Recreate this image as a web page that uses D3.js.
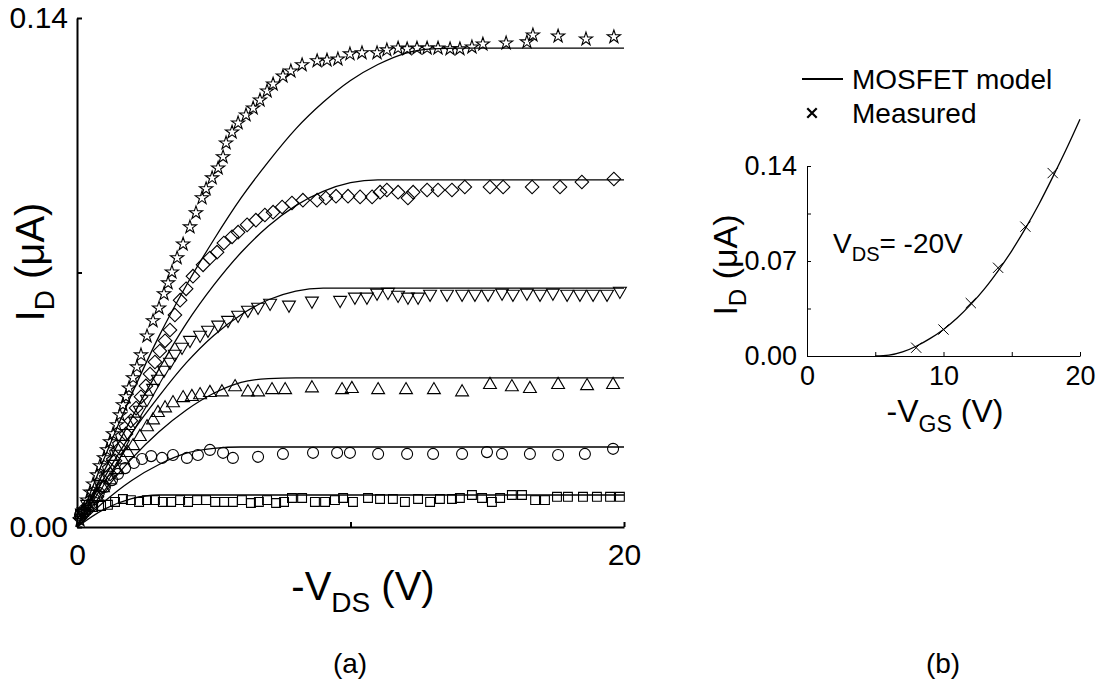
<!DOCTYPE html>
<html>
<head>
<meta charset="utf-8">
<script src="https://cdn.jsdelivr.net/npm/d3@7"></script>
<style>
  html, body { margin: 0; padding: 0; background: #fff; }
  svg { display: block; }
  text { font-family: "Liberation Sans", Arial, Helvetica, sans-serif; fill: #000; }
</style>
</head>
<body>
<svg id="chart" width="1101" height="695"></svg>
<script>
// ---------- Panel (a): output characteristics, -I_D vs -V_DS ----------
// Model curves sampled at -V_DS = 0..20 V
const modelVds = [0,1,2,3,4,5,6,7,8,9,10,11,12,13,14,15,16,17,18,19,20];
const modelVgs18 = [0,0.0190,0.0365,0.0525,0.0665,0.0790,0.0905,0.1005,0.1095,0.1168,0.1228,0.1272,0.1303,0.1315,0.1317,0.1317,0.1317,0.1317,0.1317,0.1317,0.1317];
const modelVgs16 = [0,0.0155,0.0300,0.0435,0.0560,0.0665,0.0755,0.0828,0.0884,0.0923,0.0947,0.0955,0.0955,0.0955,0.0955,0.0955,0.0955,0.0955,0.0955,0.0955,0.0955];
const modelVgs14 = [0,0.0136,0.0258,0.0360,0.0452,0.0527,0.0584,0.0625,0.0649,0.0657,0.0657,0.0657,0.0657,0.0657,0.0657,0.0657,0.0657,0.0657,0.0657,0.0657,0.0657];
const modelVgs12 = [0,0.0100,0.0188,0.0262,0.0322,0.0368,0.0398,0.0408,0.0410,0.0410,0.0410,0.0410,0.0410,0.0410,0.0410,0.0410,0.0410,0.0410,0.0410,0.0410,0.0410];
const modelVgs10 = [0,0.0070,0.0128,0.0172,0.0203,0.0216,0.0220,0.0220,0.0220,0.0220,0.0220,0.0220,0.0220,0.0220,0.0220,0.0220,0.0220,0.0220,0.0220,0.0220,0.0220];
const modelVgs8  = [0,0.0049,0.0078,0.0088,0.0088,0.0088,0.0088,0.0088,0.0088,0.0088,0.0088,0.0088,0.0088,0.0088,0.0088,0.0088,0.0088,0.0088,0.0088,0.0088,0.0088];

// Measured points [-V_DS (V), -I_D (uA)]
const measVgs18 = [[0.11,0.0019],[0.26,0.0047],[0.37,0.0074],[0.48,0.0096],[0.59,0.0118],[0.73,0.0143],[0.84,0.0168],[0.99,0.0190],[1.10,0.0212],[1.21,0.0234],[1.32,0.0256],[1.46,0.0281],[1.57,0.0308],[1.68,0.0336],[1.79,0.0358],[1.90,0.0382],[2.05,0.0410],[2.19,0.0440],[2.34,0.0473],[2.56,0.0525],[2.78,0.0567],[3.00,0.0602],[3.18,0.0641],[3.33,0.0671],[3.47,0.0701],[3.66,0.0740],[3.88,0.0778],[4.13,0.0825],[4.35,0.0864],[4.57,0.0905],[4.72,0.0930],[4.94,0.0960],[5.16,0.0987],[5.34,0.1018],[5.45,0.1056],[5.67,0.1086],[5.89,0.1111],[6.18,0.1133],[6.44,0.1152],[6.69,0.1174],[6.95,0.1199],[7.17,0.1218],[7.53,0.1240],[7.82,0.1254],[8.23,0.1271],[8.78,0.1282],[9.14,0.1284],[9.54,0.1287],[9.98,0.1301],[10.42,0.1304],[10.97,0.1304],[11.33,0.1312],[11.74,0.1317],[12.07,0.1315],[12.43,0.1317],[12.80,0.1317],[13.20,0.1317],[13.64,0.1315],[14.00,0.1315],[14.44,0.1320],[14.84,0.1328],[15.69,0.1331],[16.45,0.1334],[16.67,0.1353],[17.59,0.1350],[18.61,0.1342],[19.63,0.1348]];
const measVgs16 = [[0.11,0.0025],[0.26,0.0041],[0.48,0.0058],[0.73,0.0083],[0.95,0.0110],[1.21,0.0146],[1.39,0.0182],[1.57,0.0217],[1.79,0.0256],[1.97,0.0292],[2.16,0.0327],[2.34,0.0358],[2.52,0.0388],[2.67,0.0421],[2.85,0.0454],[3.03,0.0484],[3.22,0.0512],[3.40,0.0542],[3.58,0.0583],[3.77,0.0624],[3.99,0.0655],[4.24,0.0690],[4.61,0.0721],[4.86,0.0740],[5.12,0.0756],[5.37,0.0781],[5.67,0.0798],[5.89,0.0811],[6.22,0.0831],[6.54,0.0844],[6.87,0.0858],[7.17,0.0866],[7.50,0.0880],[7.86,0.0891],[8.26,0.0899],[8.78,0.0899],[9.10,0.0905],[9.47,0.0910],[9.91,0.0910],[10.35,0.0908],[10.79,0.0908],[11.08,0.0921],[11.33,0.0927],[11.74,0.0921],[12.10,0.0905],[12.29,0.0921],[12.80,0.0927],[13.20,0.0927],[13.71,0.0927],[14.18,0.0935],[15.10,0.0935],[15.58,0.0935],[16.64,0.0935],[17.66,0.0935],[18.46,0.0949],[19.63,0.0957]];
const measVgs14 = [[0.18,0.0039],[0.37,0.0063],[0.59,0.0091],[0.84,0.0118],[1.10,0.0143],[1.32,0.0173],[1.50,0.0201],[1.68,0.0228],[1.86,0.0258],[2.12,0.0292],[2.30,0.0322],[2.56,0.0352],[2.78,0.0382],[2.96,0.0407],[3.18,0.0432],[3.40,0.0454],[3.58,0.0476],[3.84,0.0495],[4.13,0.0514],[4.50,0.0528],[4.79,0.0542],[5.16,0.0556],[5.52,0.0569],[5.89,0.0583],[6.25,0.0597],[6.62,0.0605],[7.06,0.0616],[7.75,0.0611],[8.59,0.0622],[9.62,0.0624],[10.16,0.0633],[10.60,0.0633],[10.97,0.0644],[11.37,0.0646],[11.74,0.0638],[12.10,0.0633],[12.47,0.0633],[12.91,0.0641],[13.53,0.0641],[14.08,0.0641],[14.55,0.0641],[15.03,0.0641],[15.54,0.0644],[15.94,0.0641],[16.45,0.0644],[16.93,0.0641],[17.40,0.0644],[17.92,0.0641],[18.39,0.0641],[18.87,0.0641],[19.38,0.0641],[19.85,0.0649]];
const measVgs12 = [[0.18,0.0039],[0.40,0.0055],[0.73,0.0083],[0.95,0.0107],[1.21,0.0129],[1.46,0.0157],[1.68,0.0184],[1.86,0.0204],[2.05,0.0223],[2.30,0.0248],[2.56,0.0275],[2.78,0.0294],[2.96,0.0314],[3.22,0.0327],[3.51,0.0341],[3.88,0.0355],[4.20,0.0358],[4.50,0.0363],[4.86,0.0369],[5.30,0.0371],[5.78,0.0385],[6.25,0.0371],[6.62,0.0371],[7.13,0.0377],[7.61,0.0377],[8.59,0.0382],[9.69,0.0377],[10.05,0.0380],[11.01,0.0377],[12.03,0.0377],[13.05,0.0377],[14.08,0.0371],[15.10,0.0391],[15.90,0.0385],[16.56,0.0380],[17.59,0.0391],[18.65,0.0388],[19.60,0.0391]];
const measVgs10 = [[0.11,0.0033],[0.26,0.0047],[0.44,0.0061],[0.62,0.0077],[0.80,0.0094],[1.02,0.0110],[1.28,0.0129],[1.50,0.0146],[1.76,0.0162],[2.08,0.0176],[2.38,0.0187],[2.71,0.0195],[3.11,0.0190],[3.51,0.0198],[4.02,0.0190],[4.42,0.0198],[4.86,0.0212],[5.34,0.0204],[5.70,0.0190],[6.62,0.0193],[7.53,0.0201],[8.63,0.0204],[9.51,0.0204],[9.98,0.0204],[11.01,0.0201],[12.07,0.0201],[13.02,0.0201],[14.08,0.0201],[14.99,0.0206],[15.54,0.0201],[16.56,0.0201],[17.59,0.0198],[18.57,0.0201],[19.60,0.0215]];
const measVgs8 = [[0.11,0.0036],[0.33,0.0047],[0.59,0.0055],[0.88,0.0058],[1.13,0.0061],[1.39,0.0069],[1.68,0.0077],[1.97,0.0074],[2.27,0.0069],[2.56,0.0074],[2.85,0.0074],[3.14,0.0069],[3.44,0.0069],[3.77,0.0074],[4.06,0.0069],[4.39,0.0074],[4.72,0.0074],[5.05,0.0069],[5.38,0.0069],[5.70,0.0069],[6.03,0.0074],[6.36,0.0066],[6.65,0.0069],[6.95,0.0074],[7.28,0.0066],[7.57,0.0069],[7.86,0.0080],[8.23,0.0080],[8.70,0.0069],[9.07,0.0069],[9.43,0.0074],[9.73,0.0080],[10.09,0.0069],[10.64,0.0080],[11.08,0.0077],[11.55,0.0077],[11.99,0.0069],[12.47,0.0077],[12.91,0.0069],[13.27,0.0077],[13.71,0.0077],[14.00,0.0080],[14.44,0.0088],[14.81,0.0080],[15.17,0.0069],[15.47,0.0080],[15.90,0.0088],[16.27,0.0088],[16.75,0.0074],[17.11,0.0074],[17.55,0.0083],[17.95,0.0083],[18.50,0.0083],[19.01,0.0083],[19.49,0.0083],[19.85,0.0083]];

// ---------- Panel (b): transfer characteristic at V_DS = -20 V ----------
const transferVgs = [5,6,7,8,9,10,11,12,13,14,15,16,17,18,19,20];
const transferModel = [0,0.0006,0.0030,0.0072,0.0128,0.0196,0.0280,0.0380,0.0495,0.0628,0.0775,0.0940,0.1120,0.1318,0.1525,0.1745];
const transferMeasured = [[8,0.0061],[10,0.0195],[12,0.0390],[14,0.0650],[16,0.0953],[18,0.1348]];

// Axis tick values and labels
const tickLabelsA = { y: [0, 0.14], x: [0, 20] };
const tickValuesAy = [0, 0.07, 0.14];
const tickValuesAx = [0, 10, 20];
const tickValuesBy = [0, 0.035, 0.07, 0.105, 0.14];
const tickValuesBx = [0, 5, 10, 15, 20];
const tickLabelsB = { y: [0, 0.07, 0.14], x: [0, 10, 20] };

const svg = d3.select("#chart");
svg.append("rect").attr("width", 1101).attr("height", 695).attr("fill", "#fff");

// ----- Panel (a) -----
const xA = d3.scaleLinear().domain([0, 20]).range([77, 624]);
const yA = d3.scaleLinear().domain([0, 0.14]).range([527, 18]);

const gA = svg.append("g");

const lineA = d3.line().x(d => xA(d[0])).y(d => yA(d[1])).curve(d3.curveMonotoneX);
const models = [modelVgs18, modelVgs16, modelVgs14, modelVgs12, modelVgs10, modelVgs8];
gA.selectAll("path.model").data(models).join("path")
  .attr("class", "model")
  .attr("d", m => lineA(d3.zip(modelVds, m)))
  .attr("fill", "none").attr("stroke", "#000").attr("stroke-width", 1.3);

const series = [
  { data: measVgs18, type: d3.symbolStar, size: 54, rot: 0 },
  { data: measVgs16, type: d3.symbolSquare, size: 92, rot: 45 },
  { data: measVgs14, type: d3.symbolTriangle, size: 72, rot: 180 },
  { data: measVgs12, type: d3.symbolTriangle, size: 72, rot: 0 },
  { data: measVgs10, type: d3.symbolCircle, size: 95, rot: 0 },
  { data: measVgs8, type: d3.symbolSquare, size: 78, rot: 0 }
];
series.forEach(s => {
  const sym = d3.symbol().type(s.type).size(s.size);
  gA.append("g").selectAll("path").data(s.data).join("path")
    .attr("d", sym)
    .attr("transform", d => `translate(${xA(d[0])},${yA(d[1])}) rotate(${s.rot})`)
    .attr("fill", "none").attr("stroke", "#000").attr("stroke-width", 1.1);
});

const fmt2 = d3.format(".2f");
const yAxisA = d3.axisLeft(yA).tickValues(tickValuesAy).tickSizeInner(-5).tickSizeOuter(0).tickPadding(9)
  .tickFormat(d => tickLabelsA.y.includes(d) ? fmt2(d) : "");
const xAxisA = d3.axisBottom(xA).tickValues(tickValuesAx).tickSizeInner(-5).tickSizeOuter(0).tickPadding(17)
  .tickFormat(d => tickLabelsA.x.includes(d) ? d : "");

function styleAxis(g, w, fs) {
  g.select(".domain").attr("stroke-width", w);
  g.selectAll(".tick line").attr("stroke-width", w);
  g.selectAll("text").attr("font-size", fs).attr("font-family", '"Liberation Sans", Arial, sans-serif').attr("fill", "#000");
}
gA.append("g").attr("transform", "translate(77,0)").call(yAxisA).call(g => styleAxis(g, 2, 30));
gA.append("g").attr("transform", "translate(0,527)").call(xAxisA).call(g => styleAxis(g, 2, 30));

// Axis titles (a)
gA.append("text").attr("transform", "translate(44,262) rotate(-90)").attr("text-anchor", "middle")
  .attr("font-size", 40)
  .call(t => {
    t.append("tspan").text("I");
    t.append("tspan").attr("font-size", 28).attr("dy", 10).text("D");
    t.append("tspan").attr("dy", -10).text(" (\u03BCA)");
  });
gA.append("text").attr("x", 363).attr("y", 600).attr("text-anchor", "middle").attr("font-size", 40)
  .call(t => {
    t.append("tspan").text("-V");
    t.append("tspan").attr("font-size", 28).attr("dy", 12).text("DS");
    t.append("tspan").attr("dy", -12).text(" (V)");
  });
svg.append("text").attr("x", 350).attr("y", 673).attr("text-anchor", "middle").attr("font-size", 28).text("(a)");

// ----- Panel (b) -----
const xB = d3.scaleLinear().domain([0, 20]).range([807, 1080]);
const yB = d3.scaleLinear().domain([0, 0.14]).range([356, 166]);
const gB = svg.append("g");

const yAxisB = d3.axisLeft(yB).tickValues(tickValuesBy).tickSizeInner(-4).tickSizeOuter(0).tickPadding(10)
  .tickFormat(d => tickLabelsB.y.includes(d) ? fmt2(d) : "");
const xAxisB = d3.axisBottom(xB).tickValues(tickValuesBx).tickSizeInner(-4).tickSizeOuter(0).tickPadding(10)
  .tickFormat(d => tickLabelsB.x.includes(d) ? d : "");
gB.append("g").attr("transform", "translate(807,0)").call(yAxisB).call(g => styleAxis(g, 1, 27));
gB.append("g").attr("transform", "translate(0,356)").call(xAxisB).call(g => styleAxis(g, 1, 27));

const lineB = d3.line().x(d => xB(d[0])).y(d => yB(d[1])).curve(d3.curveMonotoneX);
gB.append("path").attr("d", lineB(d3.zip(transferVgs, transferModel)))
  .attr("fill", "none").attr("stroke", "#000").attr("stroke-width", 1.3);

const xSym = d3.symbol().type(d3.symbolX).size(70);
gB.append("g").selectAll("path").data(transferMeasured).join("path")
  .attr("d", xSym)
  .attr("transform", d => `translate(${xB(d[0])},${yB(d[1])})`)
  .attr("fill", "none").attr("stroke", "#000").attr("stroke-width", 1);

// Axis titles (b)
gB.append("text").attr("transform", "translate(737,265) rotate(-90)").attr("text-anchor", "middle")
  .attr("font-size", 34)
  .call(t => {
    t.append("tspan").text("I");
    t.append("tspan").attr("font-size", 24).attr("dy", 9).text("D");
    t.append("tspan").attr("dy", -9).text(" (\u03BCA)");
  });
gB.append("text").attr("x", 945).attr("y", 422).attr("text-anchor", "middle").attr("font-size", 32)
  .call(t => {
    t.append("tspan").text("-V");
    t.append("tspan").attr("font-size", 23).attr("dy", 10).text("GS");
    t.append("tspan").attr("dy", -10).text(" (V)");
  });
gB.append("text").attr("x", 833).attr("y", 253).attr("font-size", 28)
  .call(t => {
    t.append("tspan").text("V");
    t.append("tspan").attr("font-size", 20).attr("dy", 8).text("DS");
    t.append("tspan").attr("dy", -8).text("= -20V");
  });
svg.append("text").attr("x", 943).attr("y", 673).attr("text-anchor", "middle").attr("font-size", 28).text("(b)");

// Legend
const legend = svg.append("g");
legend.append("line").attr("x1", 802).attr("x2", 843).attr("y1", 79).attr("y2", 79)
  .attr("stroke", "#000").attr("stroke-width", 2);
legend.append("text").attr("x", 852).attr("y", 89).attr("font-size", 28).text("MOSFET model");
legend.append("path").attr("d", d3.symbol().type(d3.symbolX).size(60)())
  .attr("transform", "translate(812,113)").attr("fill", "none").attr("stroke", "#000").attr("stroke-width", 2.2);
legend.append("text").attr("x", 852).attr("y", 123).attr("font-size", 28).text("Measured");
</script>
</body>
</html>
